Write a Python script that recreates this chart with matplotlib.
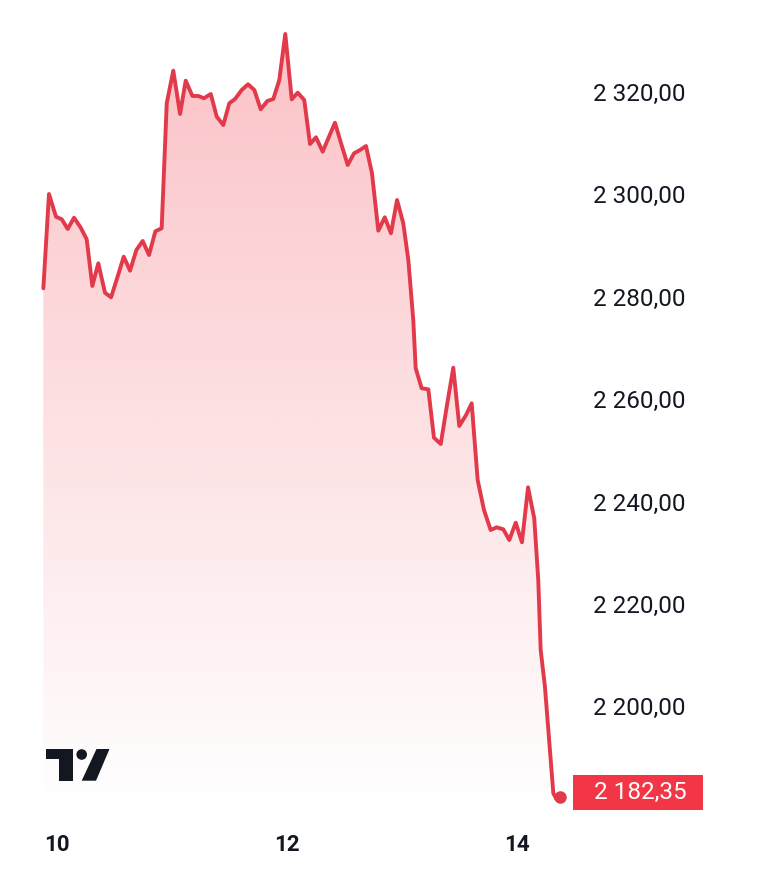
import numpy as np
import matplotlib
matplotlib.use("Agg")
import matplotlib.pyplot as plt
import matplotlib.transforms as mtransforms
from matplotlib.patches import Polygon, Rectangle, Circle
from matplotlib.colors import to_rgb

# x in days of month, y in price
days = [9.881, 9.930, 9.991, 10.041, 10.093, 10.148, 10.206, 10.258, 10.307, 10.359,
        10.417, 10.470, 10.524, 10.580, 10.635, 10.690, 10.745, 10.800, 10.855, 10.910,
        10.954, 11.011, 11.070, 11.119, 11.177, 11.229, 11.278, 11.337, 11.389, 11.446,
        11.498, 11.548, 11.606, 11.661, 11.716, 11.771, 11.829, 11.881, 11.933, 11.985,
        12.041, 12.093, 12.150, 12.200, 12.252, 12.310, 12.363, 12.417, 12.470, 12.528,
        12.583, 12.635, 12.687, 12.739, 12.794, 12.850, 12.904, 12.957, 13.011, 13.055,
        13.098, 13.119, 13.171, 13.229, 13.278, 13.337, 13.389, 13.446, 13.498, 13.557,
        13.606, 13.658, 13.713, 13.771, 13.823, 13.881, 13.933, 13.989, 14.043, 14.096,
        14.150, 14.185, 14.206, 14.243, 14.316, 14.339, 14.374]
prices = [2281.66, 2300.08, 2295.64, 2295.14, 2293.24, 2295.45, 2293.50, 2291.23, 2282.11, 2286.54,
          2280.80, 2279.90, 2283.73, 2287.83, 2285.10, 2289.14, 2290.90, 2288.16, 2292.79, 2293.38,
          2317.79, 2324.16, 2315.70, 2322.21, 2319.22, 2319.22, 2318.77, 2319.61, 2315.18, 2313.55,
          2317.79, 2318.63, 2320.39, 2321.50, 2320.39, 2316.62, 2318.24, 2318.63, 2322.34, 2331.33,
          2318.57, 2319.86, 2318.44, 2309.84, 2311.15, 2308.34, 2311.15, 2314.00, 2309.98, 2305.74,
          2308.03, 2308.67, 2309.45, 2304.12, 2292.91, 2295.53, 2292.40, 2298.91, 2294.36, 2287.19,
          2275.47, 2266.04, 2262.13, 2261.93, 2252.48, 2251.25, 2258.54, 2266.15, 2254.77, 2256.91,
          2259.20, 2244.22, 2238.36, 2234.45, 2234.98, 2234.59, 2232.50, 2235.88, 2232.05, 2242.79,
          2236.74, 2224.69, 2211.02, 2203.85, 2183.03, 2182.05, 2182.35]

y_ticks = [2200, 2220, 2240, 2260, 2280, 2300, 2320]
y_labels = ["2 200,00", "2 220,00", "2 240,00", "2 260,00", "2 280,00", "2 300,00", "2 320,00"]
x_ticks = [10, 12, 14]
x_labels = ["10", "12", "14"]
last_label = "2 182,35"

red = "#f23645"
line_col = "#e2394b"

W, H = 758, 877
fig = plt.figure(figsize=(W / 100, H / 100), dpi=100)
fig.patch.set_facecolor("white")

# axes covers pixel x 43..560, y 20..810
ax = fig.add_axes([43 / W, (H - 810) / H, (560 - 43) / W, (810 - 20) / H])
ax.set_xlim(9.878, 14.374)
ax.set_ylim(2179.77, 2334.06)
for s in ax.spines.values():
    s.set_visible(False)
ax.set_facecolor("none")

# gradient fill under the line
poly_xy = np.column_stack([np.r_[days, days[-1], days[0]],
                           np.r_[prices, 2179.77, 2179.77]])
clip = Polygon(poly_xy, closed=True, facecolor="none", edgecolor="none",
               transform=ax.transData)
ax.add_patch(clip)
rgb = to_rgb(red)
grad = np.zeros((256, 1, 4))
grad[:, 0, 0] = rgb[0]
grad[:, 0, 1] = rgb[1]
grad[:, 0, 2] = rgb[2]
grad[:, 0, 3] = np.linspace(0.31, 0.0, 256)
im = ax.imshow(grad, extent=[9.878, 14.374, 2179.77, 2334.06], aspect="auto",
               origin="upper", zorder=1, interpolation="bilinear")
im.set_clip_path(clip)

ax.plot(days, prices, color=line_col, lw=2.8, solid_joinstyle="round",
        solid_capstyle="round", zorder=3, clip_on=False)
ax.plot(days[-1], prices[-1], "o", color=line_col, ms=8, zorder=4, clip_on=False)

ax.yaxis.tick_right()
ax.set_yticks(y_ticks)
ax.set_yticklabels(y_labels, fontfamily="Roboto", fontsize=17.5, color="#131722")
ax.tick_params(axis="y", length=0, pad=24)
ax.set_xticks(x_ticks)
ax.set_xticklabels(x_labels, fontfamily="Roboto", fontsize=16, fontweight="bold",
                   color="#131722")
ax.tick_params(axis="x", length=0, pad=17)

# last price tag
blend = mtransforms.blended_transform_factory(ax.transAxes, ax.transData)
bw = 130 / 517
bh = 35 / 5.12
ax.add_patch(Rectangle((1.0251, prices[-1] - bh / 2 + 0.8), bw, bh, transform=blend,
                       facecolor=red, edgecolor="none", clip_on=False, zorder=5))
off = mtransforms.offset_copy(blend, fig=fig, x=34 * 0.72, y=0, units="points")
ax.text(1.0, prices[-1] + 0.8, last_label, transform=off, fontfamily="Roboto", fontsize=17.5,
        color="white", va="center", ha="left", zorder=6)

# TradingView logo in pixel coordinates
ov = fig.add_axes([0, 0, 1, 1])
ov.set_xlim(0, W)
ov.set_ylim(H, 0)
ov.axis("off")
ov.add_patch(Polygon([(46, 749), (72.7, 749), (72.7, 780.7), (59.3, 780.7),
                      (59.3, 759.3), (46, 759.3)], closed=True, facecolor="#131722",
                     edgecolor="none"))
ov.add_patch(Circle((81.7, 754.5), 5.3, facecolor="#131722", edgecolor="none"))
ov.add_patch(Polygon([(96.5, 749), (109.5, 749), (96, 780.7), (81.7, 780.7)],
                     closed=True, facecolor="#131722", edgecolor="none"))

fig.savefig("out.png", dpi=100)
